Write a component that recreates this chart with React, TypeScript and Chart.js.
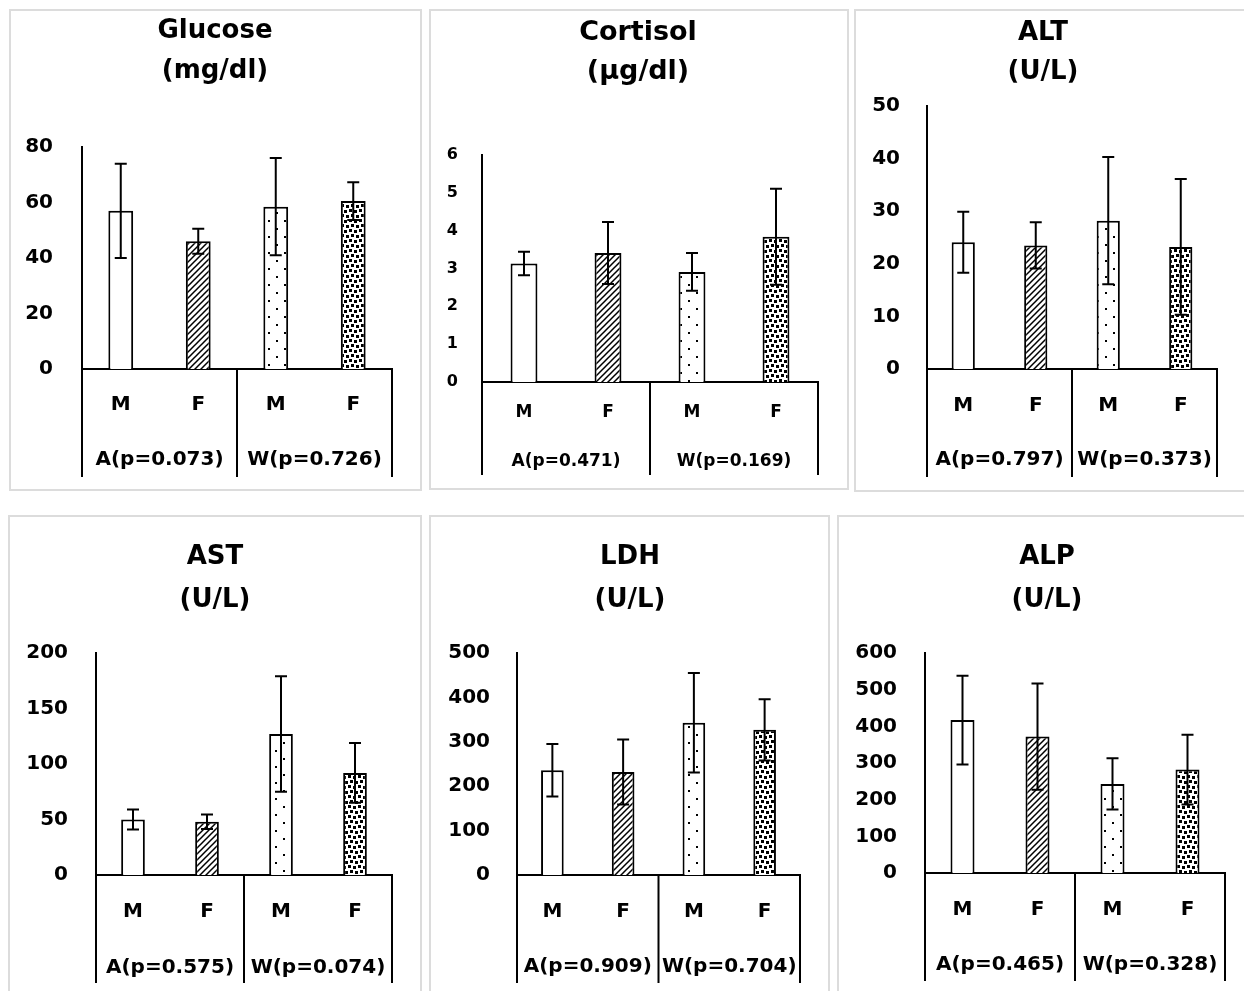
import React, { useEffect, useRef } from 'react';
import { Chart, registerables } from 'chart.js';

Chart.register(...registerables);

const FONT = 'DejaVu Sans';

// ---------- data ----------
const sexLabels = ['M', 'F', 'M', 'F'];

const glucoseTitle = ['Glucose', '(mg/dl)'];
const glucoseMean = [57, 46, 58.5, 60.5];
const glucoseSD = [17, 4.5, 17.5, 6.8];
const glucoseGroups = ['A(p=0.073)', 'W(p=0.726)'];
const glucoseAxis = [0, 80, 20];

const cortisolTitle = ['Cortisol', '(µg/dl)'];
const cortisolMean = [3.13, 3.41, 2.91, 3.84];
const cortisolSD = [0.31, 0.82, 0.5, 1.27];
const cortisolGroups = ['A(p=0.471)', 'W(p=0.169)'];
const cortisolAxis = [0, 6, 1];

const altTitle = ['ALT', '(U/L)'];
const altMean = [24.1, 23.5, 28.2, 23.2];
const altSD = [5.8, 4.4, 12.1, 12.9];
const altGroups = ['A(p=0.797)', 'W(p=0.373)'];
const altAxis = [0, 50, 10];

const astTitle = ['AST', '(U/L)'];
const astMean = [50, 48, 127, 92];
const astSD = [9, 6.5, 52, 27];
const astGroups = ['A(p=0.575)', 'W(p=0.074)'];
const astAxis = [0, 200, 50];

const ldhTitle = ['LDH', '(U/L)'];
const ldhMean = [236, 232, 343, 327];
const ldhSD = [59, 73, 112, 69];
const ldhGroups = ['A(p=0.909)', 'W(p=0.704)'];
const ldhAxis = [0, 500, 100];

const alpTitle = ['ALP', '(U/L)'];
const alpMean = [417, 372, 243, 282];
const alpSD = [121, 145, 70, 95];
const alpGroups = ['A(p=0.465)', 'W(p=0.328)'];
const alpAxis = [0, 600, 100];

// ---------- layout (page pixels) ----------
type Panel = {
  title: string[];
  mean: number[];
  sd: number[];
  groups: string[];
  axis: number[];
  box: number[]; // left, top, width, height
  area: number[]; // axisX, topY, rightX, zeroY
  titleX: number;
  titleY: number[];
  rows: number[];
  tickFont: number;
  labelFont: number;
  titleFont: number;
  tickPad: number;
};

const panels: Panel[] = [
  {
    title: glucoseTitle, mean: glucoseMean, sd: glucoseSD, groups: glucoseGroups, axis: glucoseAxis,
    box: [9, 9, 413, 482], area: [82, 147, 392, 369], titleX: 215, titleY: [31, 71],
    rows: [36, 91, 108], tickFont: 20, labelFont: 20, titleFont: 26, tickPad: 29,
  },
  {
    title: cortisolTitle, mean: cortisolMean, sd: cortisolSD, groups: cortisolGroups, axis: cortisolAxis,
    box: [429, 9, 420, 481], area: [482, 155, 818, 382], titleX: 638, titleY: [33, 72],
    rows: [31, 80, 93], tickFont: 16, labelFont: 17, titleFont: 27, tickPad: 24,
  },
  {
    title: altTitle, mean: altMean, sd: altSD, groups: altGroups, axis: altAxis,
    box: [854, 9, 400, 483], area: [927, 106, 1217, 369], titleX: 1043, titleY: [33, 72],
    rows: [37, 91, 108], tickFont: 20, labelFont: 20, titleFont: 26, tickPad: 27,
  },
  {
    title: astTitle, mean: astMean, sd: astSD, groups: astGroups, axis: astAxis,
    box: [8, 515, 414, 500], area: [96, 653, 392, 875], titleX: 215, titleY: [557, 600],
    rows: [37, 93, 108], tickFont: 20, labelFont: 20, titleFont: 26, tickPad: 28,
  },
  {
    title: ldhTitle, mean: ldhMean, sd: ldhSD, groups: ldhGroups, axis: ldhAxis,
    box: [429, 515, 401, 500], area: [517, 653, 800, 875], titleX: 630, titleY: [557, 600],
    rows: [37, 92, 108], tickFont: 20, labelFont: 20, titleFont: 26, tickPad: 27,
  },
  {
    title: alpTitle, mean: alpMean, sd: alpSD, groups: alpGroups, axis: alpAxis,
    box: [837, 515, 420, 500], area: [925, 653, 1225, 873], titleX: 1047, titleY: [557, 600],
    rows: [37, 92, 108], tickFont: 20, labelFont: 20, titleFont: 26, tickPad: 28,
  },
];

// ---------- fill patterns ----------
function tile(size: number, draw: (c: CanvasRenderingContext2D) => void): CanvasPattern | string {
  const cv = document.createElement('canvas');
  cv.width = size;
  cv.height = size;
  const c = cv.getContext('2d');
  if (!c) return '#fff';
  c.fillStyle = '#fff';
  c.fillRect(0, 0, size, size);
  draw(c);
  const pat = c.createPattern(cv, 'repeat');
  return pat || '#fff';
}

function makePatterns(): (CanvasPattern | string)[] {
  const plain = '#ffffff';
  const hatch = tile(6, (c) => {
    c.strokeStyle = '#000';
    c.lineWidth = 1.5;
    c.beginPath();
    c.moveTo(-1, 7);
    c.lineTo(7, -1);
    c.moveTo(-4, 4);
    c.lineTo(4, -4);
    c.moveTo(2, 10);
    c.lineTo(10, 2);
    c.stroke();
  });
  const sparse = tile(16, (c) => {
    c.fillStyle = '#000';
    c.fillRect(3, 3, 2, 2);
    c.fillRect(11, 11, 2, 2);
  });
  const dense = tile(10, (c) => {
    c.fillStyle = '#000';
    const sq = [
      [0, 0], [5, 1], [2, 5], [7, 6],
    ];
    sq.forEach(([x, y]) => c.fillRect(x, y, 3, 3));
  });
  return [plain, hatch, sparse, dense];
}

// ---------- one panel ----------
function PanelChart({ p }: { p: Panel }) {
  const ref = useRef<HTMLCanvasElement>(null);
  const [bl, bt, bw, bh] = p.box;

  useEffect(() => {
    if (!ref.current) return;
    const [ax, ty, rx, zy] = p.area;
    const left = ax - bl;
    const top = ty - bt;
    const right = rx - bl;
    const bottom = zy - bt;
    const Y_W = left;

    const decor = {
      id: 'decor',
      afterDatasetsDraw(chart: any) {
        const meta = chart.getDatasetMeta(0);
        const y = chart.scales.y;
        const ctx = chart.ctx as CanvasRenderingContext2D;
        ctx.save();
        ctx.strokeStyle = '#000';
        ctx.lineWidth = 2;
        meta.data.forEach((bar: any, i: number) => {
          const x = bar.x;
          const y1 = y.getPixelForValue(p.mean[i] + p.sd[i]);
          const y2 = y.getPixelForValue(p.mean[i] - p.sd[i]);
          ctx.beginPath();
          ctx.moveTo(x, y1);
          ctx.lineTo(x, y2);
          ctx.moveTo(x - 6, y1);
          ctx.lineTo(x + 6, y1);
          ctx.moveTo(x - 6, y2);
          ctx.lineTo(x + 6, y2);
          ctx.stroke();
        });
        ctx.restore();
      },
      afterDraw(chart: any) {
        const ctx = chart.ctx as CanvasRenderingContext2D;
        const a = chart.chartArea;
        const x = chart.scales.x;
        const [r1, r2, rb] = p.rows;
        ctx.save();
        ctx.strokeStyle = '#000';
        ctx.lineWidth = 2;
        const sep = (x.getPixelForValue(1) + x.getPixelForValue(2)) / 2;
        [a.left, sep, a.right].forEach((xx: number) => {
          ctx.beginPath();
          ctx.moveTo(xx, a.bottom);
          ctx.lineTo(xx, a.bottom + rb);
          ctx.stroke();
        });
        ctx.fillStyle = '#000';
        ctx.textAlign = 'center';
        ctx.textBaseline = 'middle';
        ctx.font = `bold ${p.labelFont}px "${FONT}"`;
        sexLabels.forEach((lab, i) => {
          ctx.fillText(lab, x.getPixelForValue(i), a.bottom + r1);
        });
        p.groups.forEach((g, gi) => {
          const cx = (x.getPixelForValue(gi * 2) + x.getPixelForValue(gi * 2 + 1)) / 2;
          ctx.fillText(g, cx, a.bottom + r2);
        });
        ctx.font = `bold ${p.titleFont}px "${FONT}"`;
        p.title.forEach((t, ti) => {
          ctx.fillText(t, p.titleX - bl, p.titleY[ti] - bt);
        });
        ctx.restore();
      },
    };

    const chart = new Chart(ref.current, {
      type: 'bar',
      data: {
        labels: sexLabels,
        datasets: [
          {
            data: p.mean,
            backgroundColor: makePatterns() as any,
            borderColor: '#000',
            borderWidth: 2,
            barPercentage: 0.32,
            categoryPercentage: 1,
          },
        ],
      },
      options: {
        responsive: false,
        animation: false,
        events: [],
        layout: {
          padding: { left: left - Y_W, top: top, right: bw - right, bottom: bh - bottom },
        },
        plugins: {
          legend: { display: false },
          tooltip: { enabled: false },
          title: { display: false },
        },
        scales: {
          x: {
            grid: { display: false, drawTicks: false },
            ticks: { display: false },
            border: { display: true, color: '#000', width: 2 },
            afterFit: (s: any) => {
              s.height = 0;
            },
          },
          y: {
            min: p.axis[0],
            max: p.axis[1],
            ticks: {
              stepSize: p.axis[2],
              color: '#000',
              padding: p.tickPad,
              font: { family: FONT, weight: 'bold', size: p.tickFont },
            },
            grid: { display: false, drawTicks: false },
            border: { display: true, color: '#000', width: 2 },
            afterFit: (s: any) => {
              s.width = Y_W;
            },
          },
        },
      } as any,
      plugins: [decor],
    });
    return () => chart.destroy();
  }, []);

  return (
    <>
      <div
        style={{
          position: 'absolute',
          left: bl,
          top: bt,
          width: bw,
          height: bh,
          border: '2px solid #dcdcdc',
          boxSizing: 'border-box',
        }}
      />
      <canvas
        ref={ref}
        width={bw}
        height={bh}
        style={{ position: 'absolute', left: bl, top: bt, width: bw, height: bh }}
      />
    </>
  );
}

export default function App() {
  return (
    <div
      style={{
        position: 'absolute',
        left: 0,
        top: 0,
        width: 1244,
        height: 991,
        overflow: 'hidden',
        background: '#fff',
      }}
    >
      {panels.map((p, i) => (
        <PanelChart key={i} p={p} />
      ))}
    </div>
  );
}
